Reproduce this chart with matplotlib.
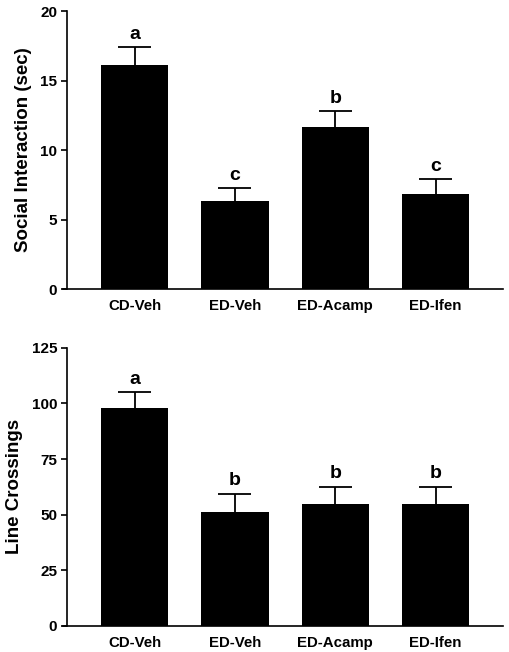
import numpy as np
import matplotlib.pyplot as plt

plt.rcParams['font.family'] = ['Liberation Sans', 'DejaVu Sans']
plt.rcParams['font.weight'] = 'bold'

# Data
groups = ['CD-Veh', 'ED-Veh', 'ED-Acamp', 'ED-Ifen']

social_mean = [16.1, 6.33, 11.63, 6.83]
social_sem = [1.3, 0.92, 1.2, 1.1]
social_letters = ['a', 'c', 'b', 'c']

cross_mean = [98.1, 51.1, 54.8, 54.9]
cross_sem = [6.9, 8.3, 7.8, 7.6]
cross_letters = ['a', 'b', 'b', 'b']

fig = plt.figure(figsize=(5.09, 6.52), dpi=100)
ax1 = fig.add_axes([0.1316, 0.5567, 0.857, 0.4264])
ax2 = fig.add_axes([0.1316, 0.0399, 0.857, 0.4268])


def draw_panel(ax, means, sems, letters, ylabel, ymax, step, offset):
    x = np.arange(len(groups))
    means = np.array(means)
    tops = means + np.array(sems)
    ax.bar(x, means, width=0.67, color='black', zorder=2)
    # upward-only error bars with a cap
    ax.vlines(x, means, tops, color='black', lw=1.3, zorder=1)
    ax.hlines(tops, x - 0.165, x + 0.165, color='black', lw=1.3, zorder=1)
    for xi, t, lab in zip(x, tops, letters):
        ax.text(xi, t + offset, lab, ha='center', va='bottom',
                fontsize=14, fontweight='bold')
    ax.set_xlim(-0.673, 3.673)
    ax.set_ylim(0, ymax)
    ax.set_yticks(np.arange(0, ymax + step / 2, step))
    ax.set_xticks(x)
    ax.set_xticklabels(groups, fontsize=10.8, fontweight='bold')
    ax.tick_params(axis='x', length=0, pad=7)
    ax.tick_params(axis='y', direction='out', length=4, width=1.2, labelsize=11, pad=3)
    for lab in ax.get_yticklabels():
        lab.set_fontweight('bold')
    ax.spines['top'].set_visible(False)
    ax.spines['right'].set_visible(False)
    ax.spines['left'].set_linewidth(1.2)
    ax.spines['bottom'].set_linewidth(1.2)
    ax.spines['bottom'].set_bounds(-0.71, 3.673)
    ax.set_ylabel(ylabel, fontsize=13.5, fontweight='bold', labelpad=6)


draw_panel(ax1, social_mean, social_sem, social_letters,
           'Social Interaction (sec)', 20, 5, 0.3)
draw_panel(ax2, cross_mean, cross_sem, cross_letters,
           'Line Crossings', 125, 25, 2.0)

fig.savefig('out.png', dpi=100)
